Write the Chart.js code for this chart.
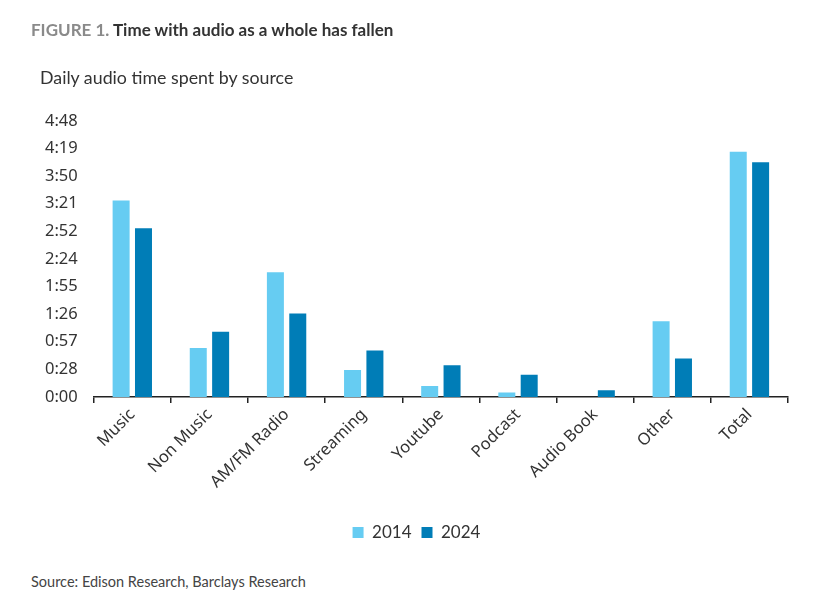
<!DOCTYPE html>
<html>
<head>
<meta charset="utf-8">
<script src="https://cdn.jsdelivr.net/npm/chart.js@4/dist/chart.umd.min.js"></script>
<style>
  body { margin: 0; background: #fff; font-family: "Lato", "Noto Sans", sans-serif; }
  #wrap { position: relative; width: 820px; height: 607px; }
  #fig { position: absolute; left: 31px; top: 19px; font-size: 17px; font-weight: bold; color: #333; }
  #fig span { color: #8a8a8a; }
  #sub { position: absolute; left: 40px; top: 66px; font-size: 17.8px; color: #333; }
  #src { position: absolute; left: 31px; top: 573px; font-size: 14.5px; color: #444; }
  #cv { position: absolute; left: 0; top: 0; }
</style>
</head>
<body>
<div id="wrap">
  <canvas id="cv" width="820" height="555"></canvas>
  <div id="fig"><span>FIGURE 1.</span> Time with audio as a whole has fallen</div>
  <div id="sub">Daily audio time spent by source</div>
  <div id="src">Source: Edison Research, Barclays Research</div>
</div>
<script>
// minutes per day
const sources = ['Music', 'Non Music', 'AM/FM Radio', 'Streaming', 'Youtube', 'Podcast', 'Audio Book', 'Other', 'Total'];
const year2014 = [205, 51, 130, 28, 11.5, 4.5, 0, 79, 256];
const year2024 = [176, 68, 87, 48.5, 33, 23, 7, 40, 245];
const yTickMinutes = [0, 28.8, 57.6, 86.4, 115.2, 144, 172.8, 201.6, 230.4, 259.2, 288];

function fmt(v) {
  const m = Math.floor(Math.round(v * 10) / 10);
  const h = Math.floor(m / 60);
  const mm = m % 60;
  return h + ':' + (mm < 10 ? '0' : '') + mm;
}

new Chart(document.getElementById('cv'), {
  type: 'bar',
  data: {
    labels: sources,
    datasets: [
      { label: '2014', data: year2014, backgroundColor: '#66ccf2' },
      { label: '2024', data: year2024, backgroundColor: '#007db7' }
    ]
  },
  options: {
    responsive: false,
    animation: false,
    layout: { padding: { top: 121, left: 45, right: 32, bottom: 4 } },
    datasets: { bar: { categoryPercentage: 0.58, barPercentage: 0.76 } },
    plugins: {
      legend: {
        position: 'bottom',
        labels: { boxWidth: 11, boxHeight: 11, color: '#333', font: { size: 17, family: 'Lato' }, padding: 10 }
      },
      tooltip: { enabled: false }
    },
    scales: {
      y: {
        min: 0, max: 288,
        afterBuildTicks: (axis) => { axis.ticks = yTickMinutes.map(v => ({ value: v })); },
        grid: { display: false },
        border: { display: false },
        ticks: { callback: (v) => fmt(v), color: '#333', font: { size: 16.5, family: 'Noto Sans' }, padding: 4, crossAlign: 'far' }
      },
      x: {
        afterFit: (axis) => { axis.height += 20; },
        grid: { display: true, offset: true, drawOnChartArea: false, tickLength: 6, color: '#222', lineWidth: 1.5 },
        border: { display: true, color: '#222', width: 1.5 },
        ticks: { color: '#333', font: { size: 16.5, family: 'Noto Sans' }, maxRotation: 45, minRotation: 45, padding: 2 }
      }
    }
  }
});
</script>
</body>
</html>
